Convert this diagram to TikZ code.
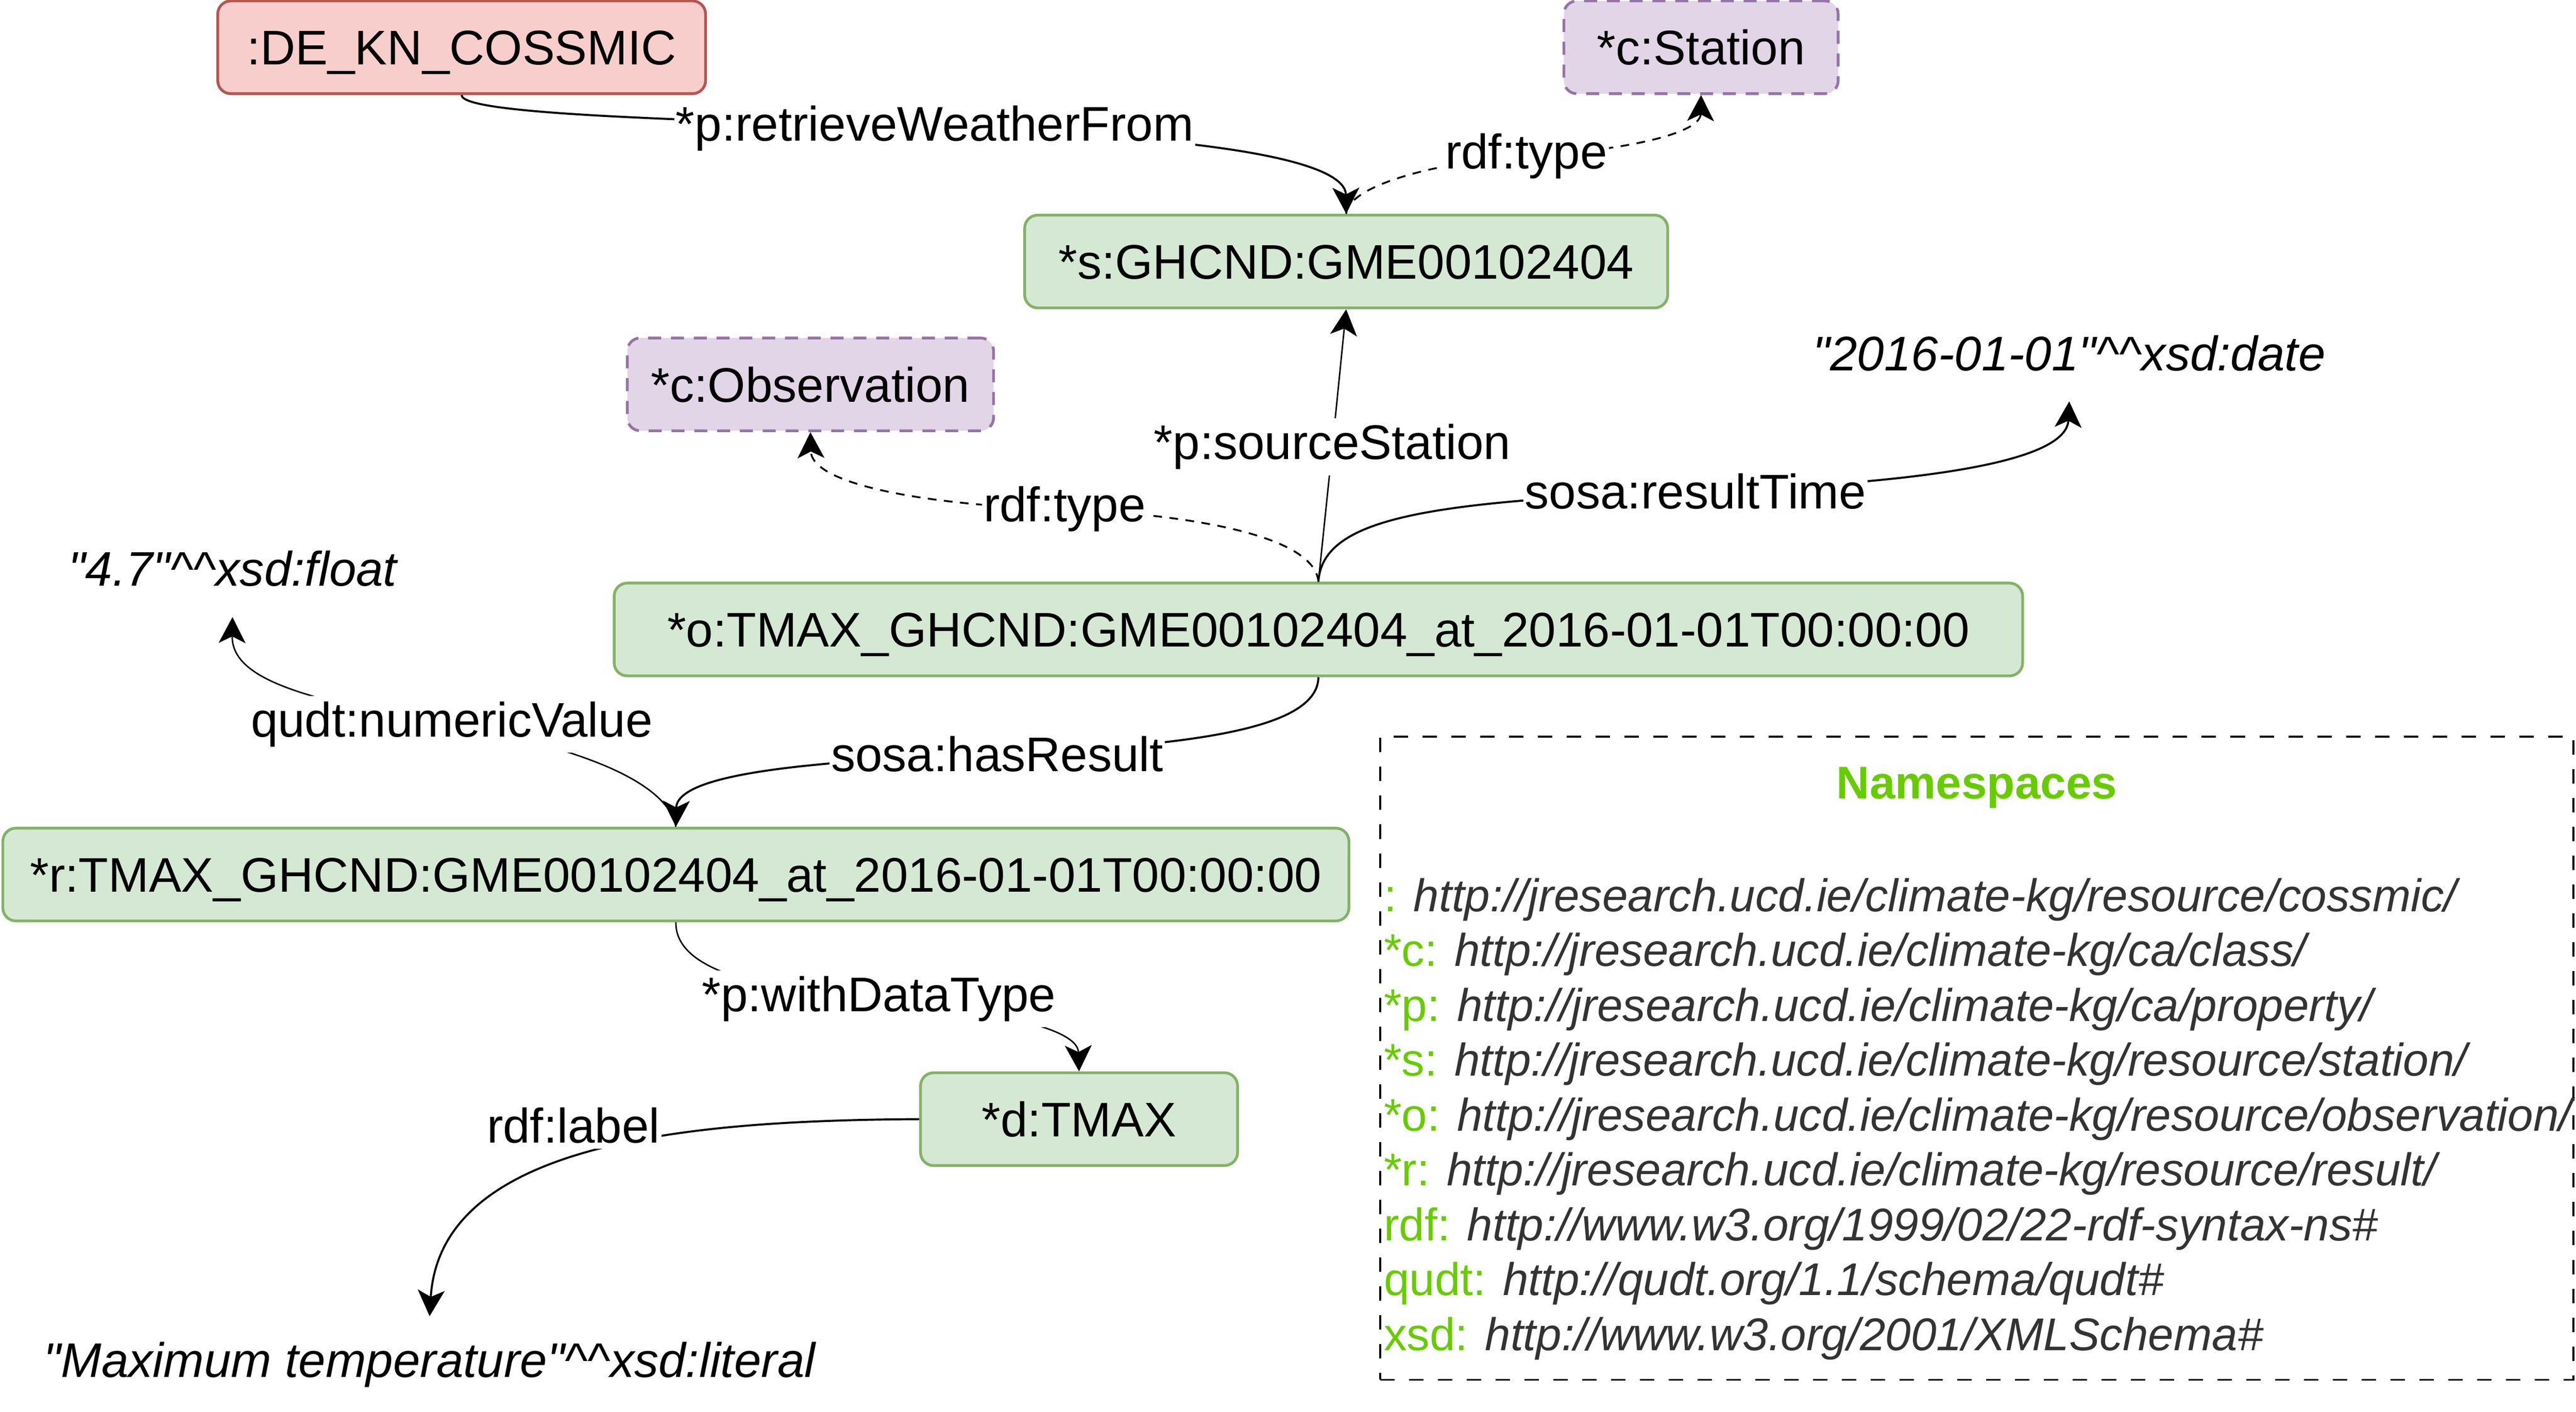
\documentclass[tikz,border=0pt]{standalone}
\usepackage{fontspec}
\setmainfont{Liberation Sans}
\usetikzlibrary{positioning, arrows.meta}

\definecolor{resfill}{HTML}{D5E8D4}
\definecolor{resline}{HTML}{82B366}
\definecolor{entfill}{HTML}{F8CECC}
\definecolor{entline}{HTML}{B85450}
\definecolor{clsfill}{HTML}{E1D5E7}
\definecolor{clsline}{HTML}{9673A6}
\definecolor{nsgreen}{HTML}{66CC00}
\definecolor{nsgrey}{HTML}{333333}

\newcommand{\nodefont}{\fontsize{16.84}{20}\selectfont}
\newcommand{\nsfont}{\fontsize{15.9}{19}\selectfont}
\newcommand{\nsline}[2]{\textcolor{nsgreen}{#1} {\color{nsgrey}\itshape #2}}
\newcommand{\qt}{\textquotedbl}
\newcommand{\tpe}{\textasciicircum\textasciicircum}

\begin{document}
\begin{tikzpicture}[x=0.02cm, y=-0.02cm, >={Stealth[length=9pt, width=9.3pt, inset=2.3pt]}, font=\nodefont,
    box/.style={rounded corners=0.16cm, line width=0.96pt, minimum height=1.13cm, inner sep=0pt,
      text height=12.1pt, text depth=0pt, font=\nodefont},
    res/.style={box, draw=resline, fill=resfill},
    ent/.style={box, draw=entline, fill=entfill},
    cls/.style={box, draw=clsline, fill=clsfill, dash pattern=on 4.5pt off 3.4pt},
    lit/.style={font=\nodefont\itshape, minimum height=1.16cm, inner sep=0pt},
    lbl/.style={fill=white, inner xsep=0.5pt, inner ysep=2pt, font=\nodefont},
    thk/.style={line width=0.7pt},
    thn/.style={line width=0.5pt},
    dsh/.style={line width=0.62pt, dash pattern=on 3pt off 2.6pt}]
  \useasboundingbox (0,0) rectangle (1568,859.5);

  % resources and classes
  \node[ent, minimum width=5.94cm] (cossmic) at (281,28.8) {:DE\_KN\_COSSMIC};
  \node[cls, minimum width=3.34cm] (station) at (1035.4,28.8) {*c:Station};
  \node[res, minimum width=7.83cm] (s) at (819.4,159.2) {*s:GHCND:GME00102404};
  \node[cls, minimum width=4.46cm] (obs) at (493.3,234) {*c:Observation};
  \node[res, minimum width=17.15cm] (o) at (802.5,383.2) {*o:TMAX\_GHCND:GME00102404\_at\_2016-01-01T00:00:00};
  \node[res, minimum width=16.39cm] (r) at (411.4,532.4) {*r:TMAX\_GHCND:GME00102404\_at\_2016-01-01T00:00:00};
  \node[res, minimum width=3.86cm] (d) at (656.8,681.3) {*d:TMAX};

  % literals
  \node[lit] (date) at (1259.5,215) {\qt2016-01-01\qt\tpe xsd:date};
  \node[lit] (flt) at (141.5,346.3) {\qt4.7\qt\tpe xsd:float};
  \node[lit] (maxt) at (261.5,830.6) {\qt Maximum temperature\qt\tpe xsd:literal};

  % properties
  \draw[thk, ->] (cossmic.south) .. controls (281,70) and (419,73) .. (569,78) node[lbl] {*p:retrieveWeatherFrom}
    .. controls (740,83) and (819,98) .. (s.north);
  \draw[dsh, ->] (s.north) .. controls (821,112) and (879,98) .. (929,95) node[lbl] {rdf:type}
    .. controls (985,92) and (1035,82) .. (station.south);
  \draw[thn, ->] (o.north) -- (811,272) node[lbl] {*p:sourceStation} -- (s.south);
  \draw[dsh, ->] (o.north) .. controls (800,325) and (720,313) .. (648,310) node[lbl] {rdf:type}
    .. controls (570,308) and (494,296) .. (obs.south);
  \draw[thk, ->] (o.north) .. controls (805,315) and (870,305) .. (1032,299) node[lbl] {sosa:resultTime}
    .. controls (1180,294) and (1258,280) .. (date.south);
  \draw[thk, ->] (o.south) .. controls (802,445) and (720,454) .. (607,459) node[lbl] {sosa:hasResult}
    .. controls (500,463) and (412,470) .. (r.north);
  \draw[thn, ->] (r.north) .. controls (405,470) and (330,451) .. (275,441) node[lbl] {qudt:numericValue}
    .. controls (180,426) and (141,412) .. (flt.south);
  \draw[thn, ->] (r.south) .. controls (411,590) and (460,603) .. (535,608) node[lbl] {*p:withDataType}
    .. controls (600,615) and (656,625) .. (d.north);
  \draw[thk, ->] (d.west) .. controls (420,682) and (268,695) .. (maxt.north);
  \node[lbl] (lab) at (349,685) {rdf:label};

  % namespaces
  \node[draw, line width=0.7pt, dash pattern=on 5pt off 5pt, minimum width=14.53cm, minimum height=7.83cm] (ns) at (1203.25,644.25) {};
  \node[font=\nsfont\bfseries, text=nsgreen, inner sep=0pt] (nstitle) at (1203.3,479.5) {Namespaces};
  \node[font=\nsfont, align=left, anchor=west, inner sep=0pt] (nslist) at (842,681.2) {%
    \nsline{:}{http://jresearch.ucd.ie/climate-kg/resource/cossmic/}\\
    \nsline{*c:}{http://jresearch.ucd.ie/climate-kg/ca/class/}\\
    \nsline{*p:}{http://jresearch.ucd.ie/climate-kg/ca/property/}\\
    \nsline{*s:}{http://jresearch.ucd.ie/climate-kg/resource/station/}\\
    \nsline{*o:}{http://jresearch.ucd.ie/climate-kg/resource/observation/}\\
    \nsline{*r:}{http://jresearch.ucd.ie/climate-kg/resource/result/}\\
    \nsline{rdf:}{http://www.w3.org/1999/02/22-rdf-syntax-ns\#}\\
    \nsline{qudt:}{http://qudt.org/1.1/schema/qudt\#}\\
    \nsline{xsd:}{http://www.w3.org/2001/XMLSchema\#}};
\end{tikzpicture}
\end{document}
